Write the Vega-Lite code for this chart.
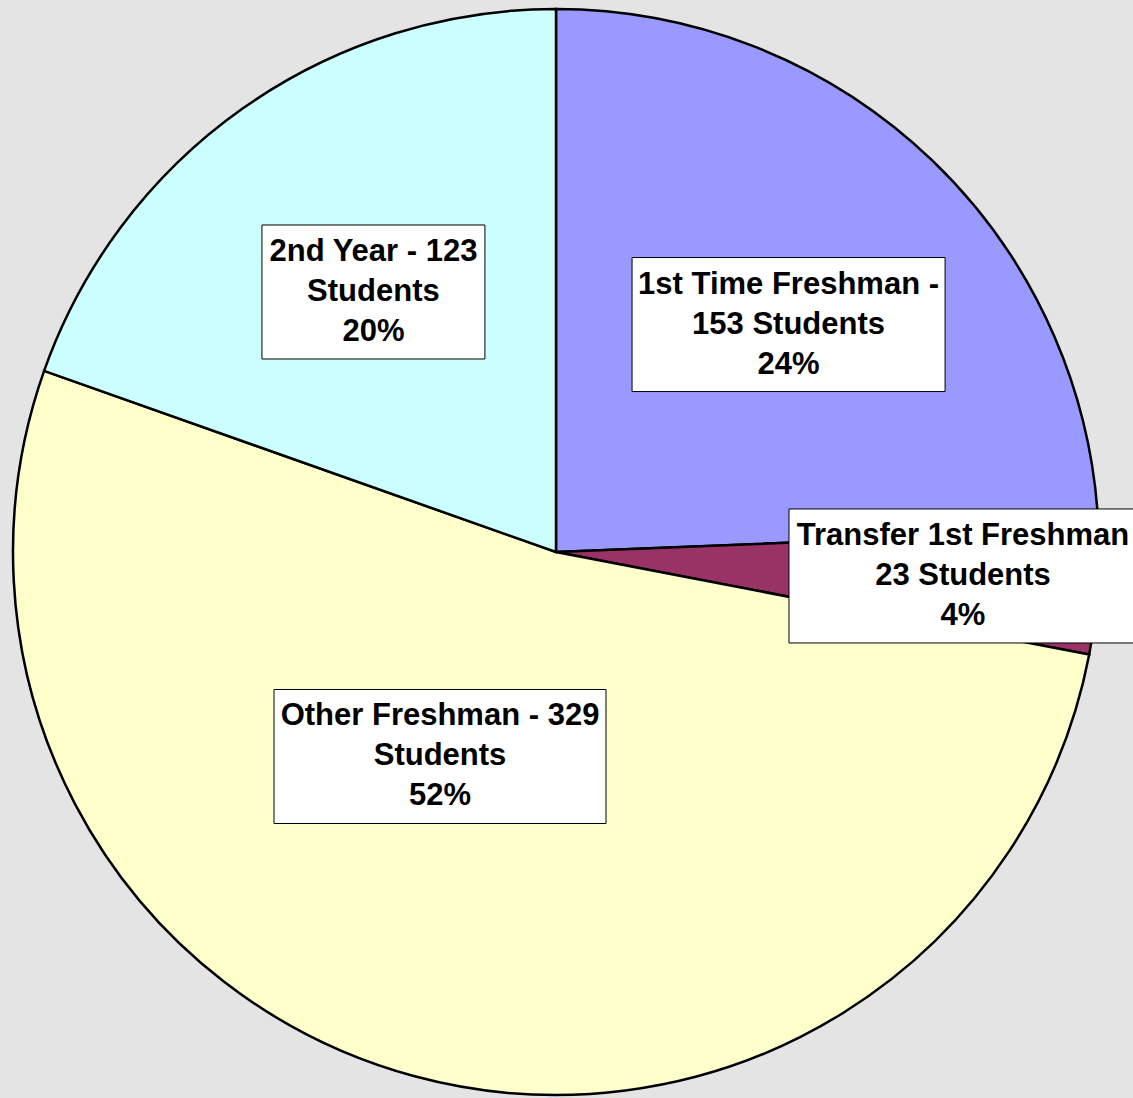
{
  "$schema": "https://vega.github.io/schema/vega-lite/v6.json",
  "width": 1133,
  "height": 1098,
  "autosize": {"type": "none"},
  "padding": 0,
  "background": "#e4e4e4",
  "view": {"stroke": null},
  "data": {
    "values": [
      {"category": "1st Time Freshman", "students": 153, "line1": "1st Time Freshman -", "line2": "153 Students"},
      {"category": "Transfer 1st Freshman", "students": 23, "line1": "Transfer 1st Freshman", "line2": "23 Students"},
      {"category": "Other Freshman", "students": 329, "line1": "Other Freshman - 329", "line2": "Students"},
      {"category": "2nd Year", "students": 123, "line1": "2nd Year - 123", "line2": "Students"}
    ]
  },
  "transform": [
    {"window": [{"op": "row_number", "as": "idx"}]},
    {"joinaggregate": [{"op": "sum", "field": "students", "as": "total"}]},
    {"window": [{"op": "sum", "field": "students", "as": "cum"}], "sort": [{"field": "idx", "order": "ascending"}], "frame": [null, 0]},
    {"calculate": "(datum.cum - datum.students / 2) / datum.total * 2 * PI", "as": "mid"},
    {"calculate": "datum.mid + (datum.category === '1st Time Freshman' ? 1.78 : datum.category === 'Transfer 1st Freshman' ? -0.93 : datum.category === 'Other Freshman' ? 14.37 : 0.18) * PI / 180", "as": "ang"},
    {"calculate": "datum.category === '1st Time Freshman' ? 325.3 : datum.category === 'Transfer 1st Freshman' ? 407.7 : datum.category === 'Other Freshman' ? 235.1 : 317.7", "as": "rr"},
    {"calculate": "datum.category === '1st Time Freshman' ? 156.5 : datum.category === 'Transfer 1st Freshman' ? 174 : datum.category === 'Other Freshman' ? 166 : 111.5", "as": "hw"},
    {"calculate": "datum.rr * sin(datum.ang)", "as": "lx"},
    {"calculate": "-datum.rr * cos(datum.ang)", "as": "ly"},
    {"calculate": "datum.lx - datum.hw", "as": "bx1"},
    {"calculate": "datum.lx + datum.hw", "as": "bx2"},
    {"calculate": "datum.ly - 67", "as": "by1"},
    {"calculate": "datum.ly + 67", "as": "by2"},
    {"calculate": "[datum.line1, datum.line2, format(datum.students / datum.total, '.0%')]", "as": "lines"}
  ],
  "layer": [
    {
      "mark": {"type": "arc", "outerRadius": 543, "stroke": "#000000", "strokeWidth": 2.5},
      "encoding": {
        "x": {"datum": 0, "type": "quantitative", "scale": {"domain": [-556, 577], "nice": false, "zero": false}, "axis": null},
        "y": {"datum": 0, "type": "quantitative", "scale": {"domain": [-552, 546], "nice": false, "zero": false, "reverse": true}, "axis": null},
        "theta": {"field": "students", "type": "quantitative", "stack": true},
        "order": {"field": "idx", "type": "quantitative", "sort": "ascending"},
        "color": {
          "field": "category",
          "type": "nominal",
          "scale": {
            "domain": ["1st Time Freshman", "Transfer 1st Freshman", "Other Freshman", "2nd Year"],
            "range": ["#9999ff", "#993366", "#ffffcc", "#ccffff"]
          },
          "legend": null
        }
      }
    },
    {
      "mark": {"type": "rect", "fill": "#ffffff", "stroke": "#000000", "strokeWidth": 1},
      "encoding": {
        "x": {"field": "bx1", "type": "quantitative", "scale": {"domain": [-556, 577], "nice": false, "zero": false}, "axis": null},
        "x2": {"field": "bx2"},
        "y": {"field": "by1", "type": "quantitative", "scale": {"domain": [-552, 546], "nice": false, "zero": false, "reverse": true}, "axis": null},
        "y2": {"field": "by2"}
      }
    },
    {
      "mark": {"type": "text", "font": "Liberation Sans", "fontWeight": "bold", "fontSize": 31, "lineHeight": 40, "dy": -40, "align": "center", "baseline": "middle", "color": "#000000"},
      "encoding": {
        "x": {"field": "lx", "type": "quantitative", "scale": {"domain": [-556, 577], "nice": false, "zero": false}, "axis": null},
        "y": {"field": "ly", "type": "quantitative", "scale": {"domain": [-552, 546], "nice": false, "zero": false, "reverse": true}, "axis": null},
        "text": {"field": "lines"}
      }
    }
  ]
}
